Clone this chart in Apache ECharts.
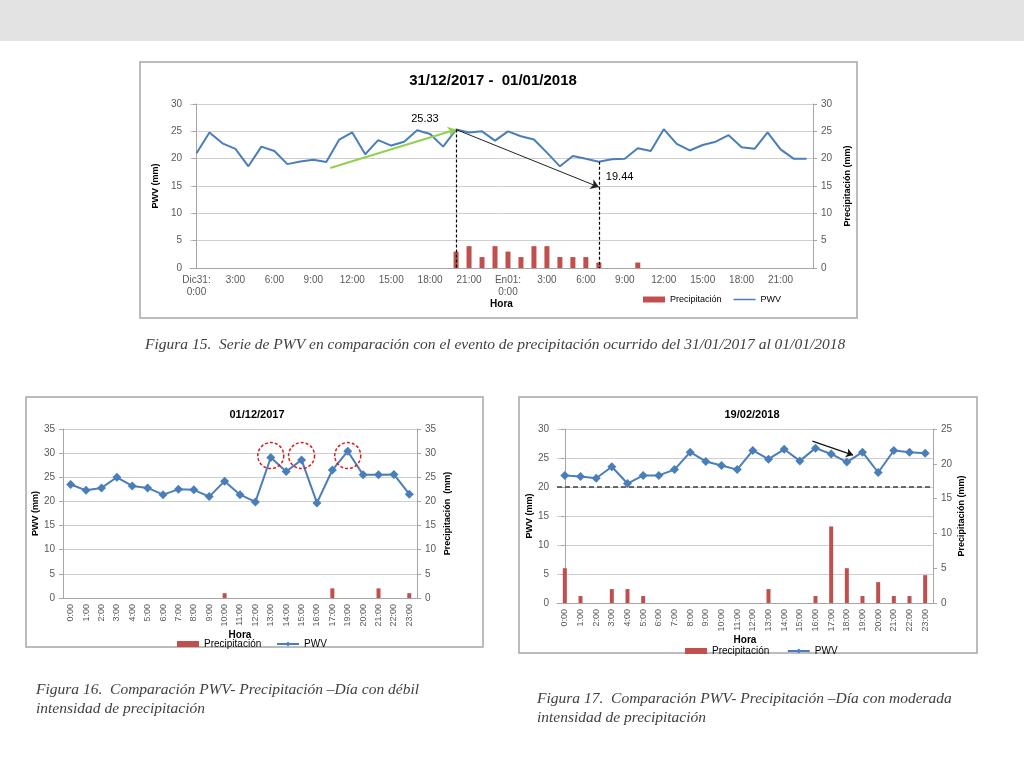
<!DOCTYPE html>
<html><head><meta charset="utf-8">
<script src="https://cdn.jsdelivr.net/npm/echarts@6/dist/echarts.min.js"></script>
<style>html,body{margin:0;padding:0;background:#fff}#c{width:1024px;height:768px}</style>
</head><body><div id="c"></div>
<script>
// ---------- Data ----------
const hours1 = ["Dic31:\n0:00","1:00","2:00","3:00","4:00","5:00","6:00","7:00","8:00","9:00","10:00","11:00","12:00","13:00","14:00","15:00","16:00","17:00","18:00","19:00","20:00","21:00","22:00","23:00",
"En01:\n0:00","1:00","2:00","3:00","4:00","5:00","6:00","7:00","8:00","9:00","10:00","11:00","12:00","13:00","14:00","15:00","16:00","17:00","18:00","19:00","20:00","21:00","22:00","23:00"];
const pwv1 = [21.0,24.8,22.8,21.8,18.6,22.2,21.4,19.0,19.5,19.8,19.4,23.5,24.8,20.8,23.4,22.4,23.1,25.2,24.5,22.2,
25.33,24.8,25.0,23.3,25.0,24.1,23.5,21.1,18.6,20.5,20.0,19.44,19.9,20.0,21.9,21.4,25.4,22.7,21.5,22.5,23.1,24.3,22.1,21.8,24.8,21.7,20.0,20.0];
const precip1 = [0,0,0,0,0,0,0,0,0,0,0,0,0,0,0,0,0,0,0,0,3,4,2,4,3,2,4,4,2,2,2,1,0,0,1,0,0,0,0,0,0,0,0,0,0,0,0,0];

const hours2 = ["0:00","1:00","2:00","3:00","4:00","5:00","6:00","7:00","8:00","9:00","10:00","11:00","12:00","13:00","14:00","15:00","16:00","17:00","19:00","20:00","21:00","22:00","23:00"];
const pwv2 = [23.5,22.3,22.8,25.0,23.2,22.8,21.4,22.5,22.4,21.0,24.2,21.4,19.9,29.1,26.2,28.6,19.7,26.5,30.4,25.5,25.5,25.6,21.5];
const precip2 = [0,0,0,0,0,0,0,0,0,0,1,0,0,0,0,0,0,2,0,0,2,0,1];
const circled2 = ["13:00","15:00","19:00"];

const hours3 = ["0:00","1:00","2:00","3:00","4:00","5:00","6:00","7:00","8:00","9:00","10:00","11:00","12:00","13:00","14:00","15:00","16:00","17:00","18:00","19:00","20:00","21:00","22:00","23:00"];
const pwv3 = [22.0,21.8,21.5,23.5,20.6,22.0,22.0,23.0,26.0,24.4,23.7,23.0,26.3,24.8,26.5,24.5,26.7,25.7,24.3,26.0,22.5,26.3,26.0,25.8];
const precip3 = [5,1,0,2,2,1,0,0,0,0,0,0,0,2,0,0,1,11,5,1,3,1,1,4];
const threshold3 = 20;

// annotation positions in data space (x = hour index, y = mm)
const greenArrow1 = [[10.3,18.3],[20,25.33]];
const blackArrow1 = [[20,25.33],[31,14.8]];
const peakLabel1 = [17.6,27.2,"25.33"];
const lowLabel1 = [32.6,16.6,"19.44"];
const arrow3 = [[15.8,27.9],[18.4,25.5]];

// ---------- Styles ----------
const BLUE = '#4A7EBB', BAR = '#C0504D', AX = '#595959', GRID = '#cfcfcf';
const FONT = 'Liberation Sans, Arial, sans-serif';
const lbl = {color: AX, fontSize: 10, fontFamily: FONT};
const nameStyle = {color: '#000', fontSize: 9, fontWeight: 'bold', fontFamily: FONT};
const LINE_ICON = 'path://M0,2.3 H22 V3.7 H0 Z M0,0 H0.01 V6 H0 Z';

function yAx(gi, max, pos, name, gap, showSplit) {
  return {type: 'value', gridIndex: gi, min: 0, max: max, interval: 5, position: pos,
    name: name, nameLocation: 'middle', nameGap: gap, nameRotate: 90, nameTextStyle: nameStyle,
    axisLine: {show: true, lineStyle: {color: '#a6a6a6'}}, axisTick: {show: true, length: 4, lineStyle: {color: '#a6a6a6'}},
    axisLabel: Object.assign({margin: 8}, lbl),
    splitLine: {show: showSplit, lineStyle: {color: GRID, width: 1}}};
}

const chart = echarts.init(document.getElementById('c'), null, {renderer: 'canvas'});
const option = {
  backgroundColor: '#fff',
  animation: false,
  title: [
    {text: '31/12/2017 -  01/01/2018', left: 488, top: 68, textAlign: 'center', textStyle: {fontSize: 15, fontWeight: 'bold', fontFamily: FONT, color: '#000'}},
    {text: '01/12/2017', left: 252, top: 404, textAlign: 'center', textStyle: {fontSize: 11, fontWeight: 'bold', fontFamily: FONT, color: '#000'}},
    {text: '19/02/2018', left: 747, top: 404, textAlign: 'center', textStyle: {fontSize: 11, fontWeight: 'bold', fontFamily: FONT, color: '#000'}}
  ],
  grid: [
    {left: 190, top: 104, width: 623, height: 164},
    {left: 63, top: 429, width: 354, height: 169},
    {left: 557, top: 429, width: 376, height: 174}
  ],
  legend: [
    {left: 638, top: 290, itemWidth: 22, itemHeight: 6, itemGap: 12, textStyle: {fontSize: 9, fontFamily: FONT, color: '#000'},
     data: [{name: 'Precipitación', icon: 'rect'}, {name: 'PWV', icon: LINE_ICON, itemStyle: {color: BLUE, borderWidth: 0}}]},
    {left: 172, top: 634, itemWidth: 22, itemHeight: 6, itemGap: 12, textStyle: {fontSize: 10, fontFamily: FONT, color: '#000'},
     data: [{name: 'Precipitación ', icon: 'rect'}, {name: 'PWV '}]},
    {left: 680, top: 641, itemWidth: 22, itemHeight: 6, itemGap: 12, textStyle: {fontSize: 10, fontFamily: FONT, color: '#000'},
     data: [{name: 'Precipitación  ', icon: 'rect'}, {name: 'PWV  '}]}
  ],
  xAxis: [
    {type: 'category', gridIndex: 0, data: hours1, boundaryGap: true,
     name: 'Hora', nameLocation: 'middle', nameGap: 30, nameTextStyle: {color: '#000', fontSize: 10, fontWeight: 'bold', fontFamily: FONT},
     axisLine: {lineStyle: {color: '#a6a6a6'}}, axisTick: {interval: 2, length: 4, lineStyle: {color: '#a6a6a6'}},
     axisLabel: Object.assign({interval: 2, margin: 6, lineHeight: 12}, lbl)},
    {type: 'category', gridIndex: 1, data: hours2, boundaryGap: true,
     name: 'Hora', nameLocation: 'middle', nameGap: 32, nameTextStyle: {color: '#000', fontSize: 10, fontWeight: 'bold', fontFamily: FONT},
     axisLine: {lineStyle: {color: '#a6a6a6'}}, axisTick: {interval: 0, length: 4, lineStyle: {color: '#a6a6a6'}},
     axisLabel: Object.assign({interval: 0, rotate: 90, margin: 6}, lbl, {fontSize: 9})},
    {type: 'category', gridIndex: 2, data: hours3, boundaryGap: true,
     name: 'Hora', nameLocation: 'middle', nameGap: 32, nameTextStyle: {color: '#000', fontSize: 10, fontWeight: 'bold', fontFamily: FONT},
     axisLine: {lineStyle: {color: '#a6a6a6'}}, axisTick: {interval: 0, length: 4, lineStyle: {color: '#a6a6a6'}},
     axisLabel: Object.assign({interval: 0, rotate: 90, margin: 6}, lbl, {fontSize: 9})},
    // hidden value axes for annotations
    {type: 'value', gridIndex: 0, min: -0.5, max: 47.5, show: false},
    {type: 'value', gridIndex: 2, min: -0.5, max: 23.5, show: false}
  ],
  yAxis: [
    yAx(0, 30, 'left', 'PWV (mm)', 19, true),
    yAx(0, 30, 'right', 'Precipitación (mm)', 26, false),
    yAx(1, 35, 'left', 'PWV (mm)', 20, true),
    yAx(1, 35, 'right', 'Precipitación  (mm)', 26, false),
    yAx(2, 30, 'left', 'PWV (mm)', 21, true),
    yAx(2, 25, 'right', 'Precipitación (mm)', 24, false)
  ],
  series: [
    // Chart 1
    {name: 'Precipitación', type: 'bar', xAxisIndex: 0, yAxisIndex: 1, data: precip1, barWidth: 5, itemStyle: {color: BAR}},
    {name: 'PWV', type: 'line', xAxisIndex: 0, yAxisIndex: 0, data: pwv1, symbol: 'none', lineStyle: {color: BLUE, width: 2}, itemStyle: {color: BLUE},
     markLine: {silent: true, symbol: 'none', label: {show: false},
       lineStyle: {color: '#000', type: [3, 2], width: 1.2},
       data: [
         [{coord: [20, pwv1[20]]}, {coord: [20, 0]}],
         [{coord: [31, pwv1[31]]}, {coord: [31, 0]}]
       ]}},
    {name: 'annot1', type: 'line', xAxisIndex: 3, yAxisIndex: 0, data: [], symbol: 'none',
     markLine: {silent: true, label: {show: false}, symbol: ['none', 'arrow'], symbolSize: 8,
       data: [
         [{coord: greenArrow1[0], lineStyle: {color: '#92D050', width: 2, type: 'solid'}}, {coord: greenArrow1[1]}],
         [{coord: blackArrow1[0], lineStyle: {color: '#222', width: 1, type: 'solid'}}, {coord: blackArrow1[1]}]
       ]},
     markPoint: {silent: true, symbol: 'circle', symbolSize: 0,
       label: {show: true, color: '#000', fontSize: 11, fontFamily: FONT, formatter: p => p.name},
       data: [
         {name: peakLabel1[2], coord: [peakLabel1[0], peakLabel1[1]]},
         {name: lowLabel1[2], coord: [lowLabel1[0], lowLabel1[1]]}
       ]}},
    // Chart 2
    {name: 'Precipitación ', type: 'bar', xAxisIndex: 1, yAxisIndex: 3, data: precip2, barWidth: 4, itemStyle: {color: BAR}},
    {name: 'PWV ', type: 'line', xAxisIndex: 1, yAxisIndex: 2, data: pwv2, symbol: 'diamond', symbolSize: 9,
     lineStyle: {color: BLUE, width: 2}, itemStyle: {color: BLUE},
     markPoint: {silent: true, symbol: 'circle', symbolSize: 26,
       itemStyle: {color: 'rgba(0,0,0,0)', borderColor: '#E0191B', borderWidth: 1.5, borderType: [3, 2]},
       label: {show: false},
       data: circled2.map(h => ({coord: [h, 29.5]}))}},
    // Chart 3
    {name: 'Precipitación  ', type: 'bar', xAxisIndex: 2, yAxisIndex: 5, data: precip3, barWidth: 4, itemStyle: {color: BAR}},
    {name: 'PWV  ', type: 'line', xAxisIndex: 2, yAxisIndex: 4, data: pwv3, symbol: 'diamond', symbolSize: 9,
     lineStyle: {color: BLUE, width: 2}, itemStyle: {color: BLUE},
     markLine: {silent: true, symbol: 'none', label: {show: false},
       lineStyle: {color: '#404040', type: [5, 3], width: 1.5},
       data: [{yAxis: threshold3}]}},
    {name: 'annot3', type: 'line', xAxisIndex: 4, yAxisIndex: 4, data: [], symbol: 'none',
     markLine: {silent: true, label: {show: false}, symbol: ['none', 'arrow'], symbolSize: 7,
       lineStyle: {color: '#111', width: 1.2, type: 'solid'},
       data: [[{coord: arrow3[0]}, {coord: arrow3[1]}]]}}
  ],
  graphic: [
    {type: 'rect', shape: {x: 0, y: 0, width: 1024, height: 41}, style: {fill: '#e3e3e3'}, z: -10},
    {type: 'rect', shape: {x: 140, y: 62, width: 717, height: 256}, style: {fill: 'none', stroke: '#a6a6a6', lineWidth: 1.5}, z: -5},
    {type: 'rect', shape: {x: 26, y: 397, width: 457, height: 250}, style: {fill: 'none', stroke: '#a6a6a6', lineWidth: 1.5}, z: -5},
    {type: 'rect', shape: {x: 519, y: 397, width: 458, height: 256}, style: {fill: 'none', stroke: '#a6a6a6', lineWidth: 1.5}, z: -5},
    {type: 'text', left: 145, top: 337, style: {text: 'Figura 15.  Serie de PWV en comparación con el evento de precipitación ocurrido del 31/01/2017 al 01/01/2018', font: 'italic 15.5px "Liberation Serif", "DejaVu Serif", serif', fill: '#404040'}},
    {type: 'text', left: 36, top: 680, style: {text: 'Figura 16.  Comparación PWV- Precipitación –Día con débil\nintensidad de precipitación', font: 'italic 15.5px "Liberation Serif", "DejaVu Serif", serif', fill: '#404040', lineHeight: 19}},
    {type: 'text', left: 537, top: 689, style: {text: 'Figura 17.  Comparación PWV- Precipitación –Día con moderada\nintensidad de precipitación', font: 'italic 15.5px "Liberation Serif", "DejaVu Serif", serif', fill: '#404040', lineHeight: 19}}
  ]
};
chart.setOption(option);
</script>
</body></html>
